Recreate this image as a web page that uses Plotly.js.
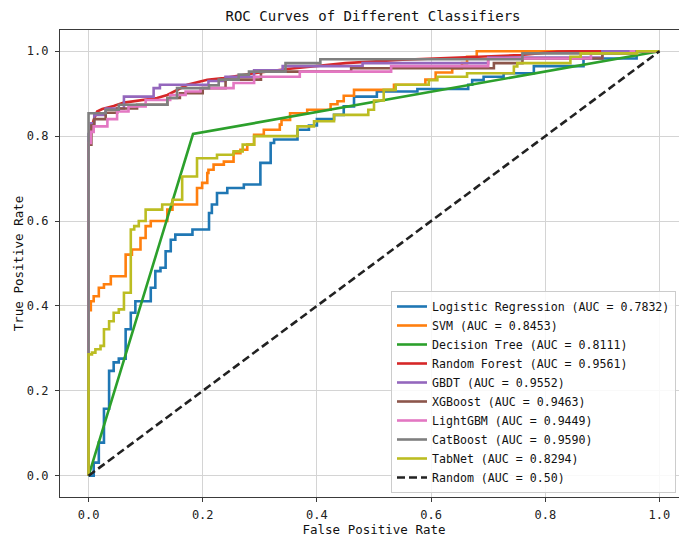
<!DOCTYPE html>
<html>
<head>
<meta charset="utf-8">
<script src="https://cdn.plot.ly/plotly-3.0.1.min.js"></script>
<style>
html, body { margin: 0; padding: 0; overflow: hidden; background: #fff; }
#chart { width: 690px; height: 537px; }
</style>
</head>
<body>
<div id="chart"></div>
<script>
// ---- data ----
const names = ["Logistic Regression", "SVM", "Decision Tree", "Random Forest", "GBDT",
               "XGBoost", "LightGBM", "CatBoost", "TabNet", "Random"];
const aucs = ["0.7832", "0.8453", "0.8111", "0.9561", "0.9552", "0.9463", "0.9449", "0.9590", "0.8294", "0.50"];

const lrFpr = [0, 0.009, 0.018, 0.027, 0.036, 0.044, 0.053, 0.065, 0.074, 0.082, 0.109, 0.117, 0.126, 0.135, 0.144, 0.152, 0.182, 0.211, 0.216, 0.225, 0.243, 0.272, 0.301, 0.319, 0.325, 0.366, 0.386, 0.400, 0.430, 0.447, 0.465, 0.505, 0.576, 0.665, 0.672, 0.692, 0.727, 0.780, 0.867, 0.960, 1.0];
const lrTpr = [0, 0.031, 0.078, 0.158, 0.247, 0.267, 0.276, 0.345, 0.384, 0.411, 0.443, 0.482, 0.490, 0.529, 0.556, 0.568, 0.580, 0.619, 0.639, 0.666, 0.678, 0.686, 0.737, 0.784, 0.792, 0.815, 0.825, 0.840, 0.850, 0.870, 0.893, 0.905, 0.911, 0.921, 0.932, 0.940, 0.948, 0.965, 0.983, 1.0, 1.0];

const svmFpr = [0, 0, 0.004, 0.009, 0.018, 0.027, 0.039, 0.065, 0.076, 0.091, 0.100, 0.109, 0.138, 0.147, 0.190, 0.199, 0.208, 0.210, 0.219, 0.237, 0.254, 0.266, 0.278, 0.290, 0.307, 0.335, 0.338, 0.353, 0.383, 0.424, 0.436, 0.447, 0.465, 0.535, 0.590, 0.608, 0.637, 0.654, 0.663, 0.680, 1.0];
const svmTpr = [0, 0.390, 0.411, 0.423, 0.443, 0.451, 0.470, 0.521, 0.533, 0.560, 0.588, 0.600, 0.627, 0.639, 0.678, 0.690, 0.713, 0.721, 0.733, 0.740, 0.760, 0.768, 0.780, 0.803, 0.815, 0.827, 0.838, 0.854, 0.862, 0.875, 0.882, 0.895, 0.909, 0.921, 0.933, 0.950, 0.960, 0.972, 0.987, 1.0, 1.0];

const dtFpr = [0, 0.183, 1.0];
const dtTpr = [0, 0.805, 1.0];

const rfFpr = [0, 0, 0.002, 0.009, 0.015, 0.024, 0.044, 0.062, 0.120, 0.138, 0.173, 0.208, 0.237, 0.290, 0.348, 0.450, 0.550, 0.669, 0.757, 0.821, 0.850, 1.0];
const rfTpr = [0, 0.780, 0.803, 0.838, 0.858, 0.864, 0.871, 0.879, 0.890, 0.897, 0.921, 0.933, 0.937, 0.948, 0.958, 0.972, 0.980, 0.987, 0.991, 0.999, 1.0, 1.0];

const gbdtFpr = [0, 0, 0.004, 0.010, 0.030, 0.062, 0.114, 0.125, 0.210, 0.240, 0.290, 0.340, 0.480, 0.700, 0.900, 1.0];
const gbdtTpr = [0, 0.805, 0.830, 0.850, 0.865, 0.893, 0.913, 0.921, 0.930, 0.940, 0.955, 0.965, 0.972, 0.985, 1.0, 1.0];

const xgbFpr = [0, 0, 0.005, 0.010, 0.030, 0.050, 0.085, 0.138, 0.160, 0.200, 0.240, 0.302, 0.460, 0.710, 0.760, 0.900, 0.960, 1.0];
const xgbTpr = [0, 0.780, 0.825, 0.840, 0.855, 0.865, 0.874, 0.890, 0.901, 0.913, 0.933, 0.952, 0.960, 0.972, 0.983, 0.995, 1.0, 1.0];

const lgbmFpr = [0, 0, 0.004, 0.009, 0.033, 0.050, 0.070, 0.100, 0.143, 0.170, 0.196, 0.254, 0.290, 0.370, 0.530, 0.700, 0.880, 0.950, 1.0];
const lgbmTpr = [0, 0.784, 0.810, 0.823, 0.840, 0.858, 0.870, 0.885, 0.897, 0.905, 0.913, 0.925, 0.940, 0.952, 0.965, 0.983, 0.995, 1.0, 1.0];

const catFpr = [0, 0, 0.030, 0.053, 0.138, 0.155, 0.211, 0.228, 0.263, 0.281, 0.345, 0.406, 0.760, 0.960, 1.0];
const catTpr = [0, 0.854, 0.862, 0.874, 0.890, 0.913, 0.920, 0.933, 0.945, 0.952, 0.972, 0.981, 0.995, 1.0, 1.0];

const tabFpr = [0, 0, 0.006, 0.012, 0.021, 0.027, 0.036, 0.044, 0.053, 0.062, 0.074, 0.080, 0.088, 0.100, 0.129, 0.147, 0.164, 0.190, 0.225, 0.254, 0.270, 0.290, 0.366, 0.395, 0.430, 0.490, 0.500, 0.517, 0.538, 0.596, 0.611, 0.663, 0.745, 0.751, 0.844, 0.862, 0.961, 1.0];
const tabTpr = [0, 0.286, 0.290, 0.298, 0.306, 0.345, 0.364, 0.384, 0.392, 0.431, 0.580, 0.588, 0.600, 0.627, 0.639, 0.650, 0.705, 0.748, 0.756, 0.764, 0.780, 0.800, 0.823, 0.835, 0.850, 0.862, 0.884, 0.909, 0.921, 0.932, 0.940, 0.948, 0.964, 0.972, 0.987, 0.995, 1.0, 1.0];

const randFpr = [0, 1];
const randTpr = [0, 1];

const colors = ["#1f77b4", "#ff7f0e", "#2ca02c", "#d62728", "#9467bd",
                "#8c564b", "#e377c2", "#7f7f7f", "#bcbd22", "#222222"];
const xs = [lrFpr, svmFpr, dtFpr, rfFpr, gbdtFpr, xgbFpr, lgbmFpr, catFpr, tabFpr, randFpr];
const ys = [lrTpr, svmTpr, dtTpr, rfTpr, gbdtTpr, xgbTpr, lgbmTpr, catTpr, tabTpr, randTpr];
const stepped = [true, true, false, false, true, true, true, true, true, false];

const FONT = "DejaVu Sans Mono, monospace";

const traces = names.map((n, i) => ({
  x: xs[i], y: ys[i], type: "scatter", mode: "lines",
  name: n + " (AUC = " + aucs[i] + ")",
  line: {
    color: colors[i],
    width: 2.6,
    shape: stepped[i] ? "hv" : "linear",
    dash: i === 9 ? "8px,4px" : "solid"
  },
  hoverinfo: "skip"
}));

const tickVals = [0, 0.2, 0.4, 0.6, 0.8, 1.0];
const tickText = ["0.0", "0.2", "0.4", "0.6", "0.8", "1.0"];

const axisCommon = {
  range: [-0.05, 1.05],
  tickvals: tickVals, ticktext: tickText,
  showgrid: true, gridcolor: "#d4d4d4", gridwidth: 1,
  zeroline: false,
  showline: true, linecolor: "#3a3a3a", linewidth: 1.2, mirror: true,
  ticks: "outside", ticklen: 4, tickwidth: 1, tickcolor: "#3a3a3a",
  tickfont: { family: FONT, size: 12, color: "#222" }
};

const layout = {
  width: 690, height: 537,
  margin: { l: 60, r: 2, t: 30, b: 40 },
  paper_bgcolor: "#ffffff", plot_bgcolor: "#ffffff",
  font: { family: FONT, color: "#222" },
  title: {
    text: "ROC Curves of Different Classifiers",
    font: { family: FONT, size: 14, color: "#111" },
    x: 373 / 690, xref: "container", xanchor: "center",
    y: 1 - 16 / 537, yref: "container", yanchor: "middle"
  },
  xaxis: Object.assign({}, axisCommon, {
    title: { text: "False Positive Rate", font: { family: FONT, size: 12.5, color: "#111" }, standoff: 4 },
    ticklabelstandoff: 2
  }),
  yaxis: Object.assign({}, axisCommon, {
    title: { text: "True Positive Rate", font: { family: FONT, size: 12.5, color: "#111" }, standoff: 0 },
    ticklabelstandoff: 4
  }),
  legend: {
    x: (391 - 60) / 628, y: (497 - 291) / 467,
    xanchor: "left", yanchor: "top",
    bgcolor: "rgba(255,255,255,0.85)",
    bordercolor: "#cccccc", borderwidth: 1,
    font: { family: FONT, size: 11.6, color: "#111" }
  },
  showlegend: true
};

Plotly.newPlot("chart", traces, layout, { displayModeBar: false, staticPlot: true });
</script>
</body>
</html>
